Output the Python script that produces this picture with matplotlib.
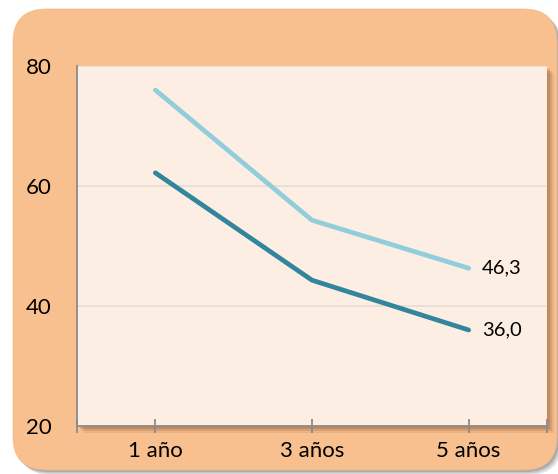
import matplotlib.pyplot as plt
from matplotlib.patches import FancyBboxPatch, Rectangle

categorias = ["1 año", "3 años", "5 años"]
serie_clara = [76.0, 54.3, 46.3]
serie_oscura = [62.2, 44.3, 36.0]
etiquetas_fin = ["46,3", "36,0"]
yticks = [20, 40, 60, 80]

plt.rcParams['font.family'] = ['Lato', 'DejaVu Sans']

W, H = 558, 474
fig = plt.figure(figsize=(W / 100, H / 100), dpi=100)
fig.patch.set_facecolor('white')


def px(x, y):
    return x / W, 1 - y / H


# marco naranja redondeado con sombra
for off, a in [(5, 0.10), (3.5, 0.12), (2, 0.15)]:
    x0, y1 = px(13 + off, 470 + off)
    fig.patches.append(FancyBboxPatch((x0, y1), 544 / W, 461 / H,
                                      boxstyle="round,pad=0,rounding_size=0.06",
                                      transform=fig.transFigure, facecolor='black',
                                      edgecolor='none', alpha=a, zorder=0,
                                      mutation_aspect=W / H))
x0, y1 = px(13, 470)
fig.patches.append(FancyBboxPatch((x0, y1), 544 / W, 461 / H,
                                  boxstyle="round,pad=0,rounding_size=0.06",
                                  transform=fig.transFigure, facecolor='#F9C08F',
                                  edgecolor='#F2B887', lw=0.5, zorder=1,
                                  mutation_aspect=W / H))

# area de trazado
left, top, right, bottom = 77, 66, 547, 426
ax_pos = [left / W, 1 - bottom / H, (right - left) / W, (bottom - top) / H]

# sombra del area de trazado
for off, a in [(7, 0.10), (5, 0.15), (3, 0.22)]:
    fig.patches.append(Rectangle(((left + off) / W, 1 - (bottom + off) / H),
                                 (right - left) / W, (bottom - top) / H,
                                 transform=fig.transFigure, facecolor='#6b3d1a',
                                 edgecolor='none', alpha=a, zorder=2))

ax = fig.add_axes(ax_pos, zorder=3)
ax.set_facecolor('#FDEEE3')

x = list(range(len(categorias)))
ax.plot(x, serie_clara, color='#92CDDC', lw=3.4, solid_capstyle='round', zorder=3)
ax.plot(x, serie_oscura, color='#31859C', lw=3.4, solid_capstyle='round', zorder=3)

ax.text(x[-1] + 0.085, serie_clara[-1], etiquetas_fin[0], va='center', ha='left', fontsize=14.5)
ax.text(x[-1] + 0.085, serie_oscura[-1], etiquetas_fin[1], va='center', ha='left', fontsize=14.5)

ax.set_xlim(-0.5, 2.5)
ax.set_ylim(20, 80)
ax.set_yticks(yticks)
ax.set_yticklabels([str(v) for v in yticks], fontsize=16)
ax.set_xticks(x)
ax.set_xticklabels(categorias, fontsize=16)
ax.set_xticks([-0.5, 2.5], minor=True)

ax.grid(axis='y', color='#E6DCD6', lw=1.2)
ax.set_axisbelow(True)

for s in ['top', 'right']:
    ax.spines[s].set_visible(False)
for s in ['left', 'bottom']:
    ax.spines[s].set_color('#8C8C8C')
    ax.spines[s].set_linewidth(1.3)

ax.tick_params(axis='y', length=0, pad=18)
ax.tick_params(axis='x', which='both', length=10, width=1.3, color='#8C8C8C',
               direction='inout', pad=6)

fig.savefig('out.png', dpi=100)
